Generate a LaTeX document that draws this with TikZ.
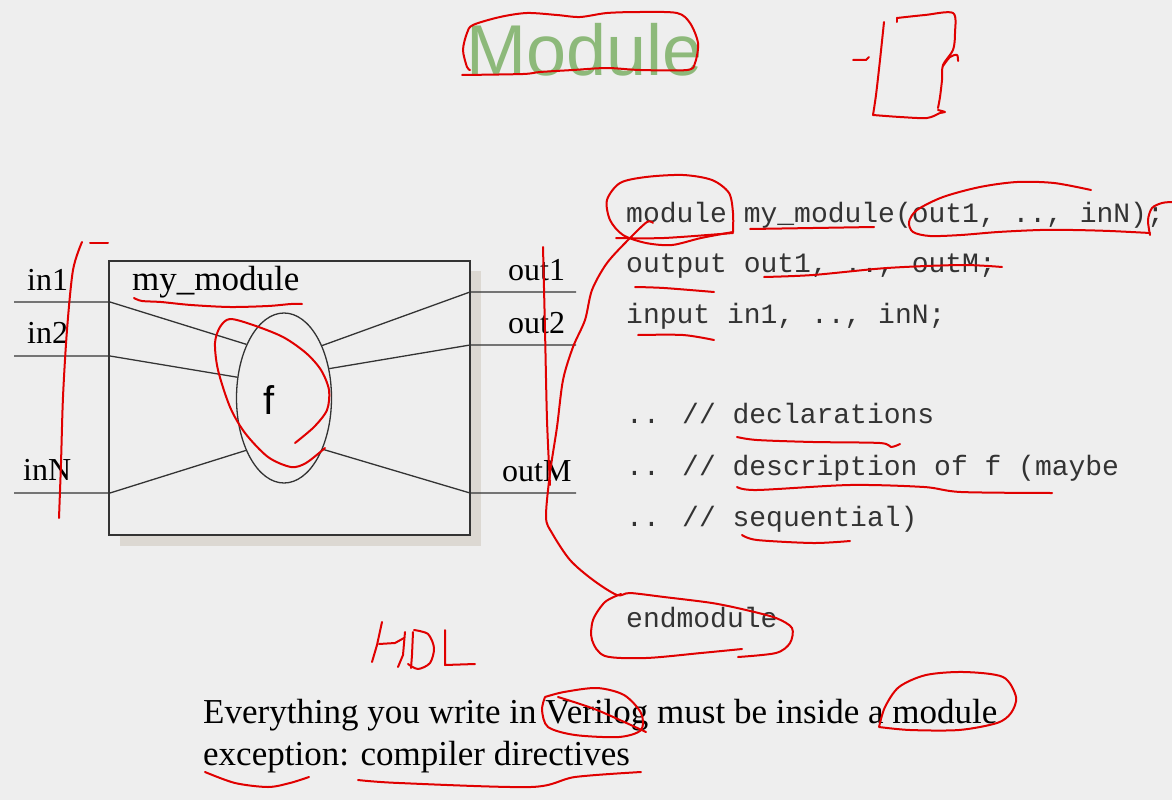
\documentclass[tikz,border=0pt]{standalone}
\usepackage{fontspec}
\setmainfont{Liberation Serif}
\newfontfamily\arialfont{Liberation Sans}
\newfontfamily\courfont{Liberation Mono}
\usetikzlibrary{shapes.geometric}
\definecolor{slidebg}{HTML}{EEEEEE}
\definecolor{titlegreen}{HTML}{8DB97A}
\definecolor{shadowgray}{HTML}{DCD8D2}
\definecolor{wire}{HTML}{333333}
\definecolor{ink}{HTML}{E00000}
\definecolor{codegray}{HTML}{333333}
\begin{document}
\begin{tikzpicture}[x=1pt,y=-1pt,
  wireline/.style={draw=wire, line width=1.3pt},
  pinlabel/.style={anchor=base west, inner sep=0pt, font=\fontsize{32}{32}\selectfont},
  codeline/.style={anchor=base west, inner sep=0pt, text=codegray, font=\courfont\fontsize{28}{28}\selectfont},
  bodytext/.style={anchor=base west, inner sep=0pt, font=\fontsize{35}{35}\selectfont},
  pen/.style={draw=ink, line width=2pt, line cap=round, line join=round},
]
% slide background
\fill[slidebg] (0,0) rectangle (1172,800);
\useasboundingbox (0,0) rectangle (1172,800);

% title
\node[anchor=base west, inner sep=0pt, text=titlegreen,
      font=\arialfont\fontsize{72}{72}\selectfont] (title) at (466,75) {Module};

% module block with its shadow
\fill[shadowgray] (120,271) rectangle (481,546);
\node[draw=wire, line width=1.6pt, fill=slidebg, minimum width=361pt,
      minimum height=274pt, inner sep=0pt] (box) at (289.5,398) {};
\node[pinlabel, font=\fontsize{35}{35}\selectfont] (modname) at (132,290) {my\_module};

% function ellipse
\node[ellipse, draw=wire, line width=1.3pt, minimum width=95pt,
      minimum height=170pt, inner sep=0pt] (f) at (284,398) {};
\node[inner sep=0pt, font=\arialfont\fontsize{40}{40}\selectfont] (flabel) at (269.5,400) {f};

% input wires
\coordinate (in1w) at (14,302);  \coordinate (in1e) at (110,302);
\coordinate (in2w) at (14,356);  \coordinate (in2e) at (110,356);
\coordinate (inNw) at (14,493);  \coordinate (inNe) at (110,493);
\draw[wireline] (in1w) -- (in1e) -- (f.125);
\draw[wireline] (in2w) -- (in2e) -- (f.156);
\draw[wireline] (inNw) -- (inNe) -- (f.234);

% output wires
\coordinate (out1w) at (470,292); \coordinate (out1e) at (576,292);
\coordinate (out2w) at (470,345); \coordinate (out2e) at (576,345);
\coordinate (outMw) at (470,493); \coordinate (outMe) at (576,493);
\draw[wireline] (f.54) -- (out1w) -- (out1e);
\draw[wireline] (f.33) -- (out2w) -- (out2e);
\draw[wireline] (f.307) -- (outMw) -- (outMe);

% pin labels
\node[pinlabel] (lin1) at (27,290) {in1};
\node[pinlabel] (lin2) at (27,343) {in2};
\node[pinlabel] (linN) at (23,480) {inN};
\node[pinlabel] (lout1) at (508,280) {out1};
\node[pinlabel] (lout2) at (508,333) {out2};
\node[pinlabel] (loutM) at (502,481) {outM};

% Verilog skeleton
\node[codeline] (c1) at (626,222) {module my\_module(out1, .., inN);};
\node[codeline] (c2) at (626,272) {output out1, .., outM;};
\node[codeline] (c3) at (626,323) {input in1, .., inN;};
\node[codeline] (c4) at (626,423) {.. // declarations};
\node[codeline] (c5) at (626,475) {.. // description of f (maybe};
\node[codeline] (c6) at (626,526) {.. // sequential)};
\node[codeline] (c7) at (626,627) {endmodule};

% bottom remarks
\node[bodytext] (t1) at (203,723) {Everything you write in Verilog must be inside a module};
\node[bodytext] (t2) at (203,765) {exception: compiler directives};

% ---- red pen marks ----
% loop around the title
\draw[pen] plot[smooth] coordinates {(462,75) (523,74) (540,72) (573,70) (607,68) (640,70) (687,70) (695,63) (698,43) (690,23) (677,13) (640,12) (607,13) (580,17) (557,15) (527,13) (500,17) (473,25) (467,33) (463,50) (467,67) (470,70)};
% bracket sketch, top right
\draw[pen] (853,60) -- (866,60) -- (869,57);
\draw[pen] plot[smooth] coordinates {(884,22) (880,60) (876,95) (873,115)};
\draw[pen] plot[smooth] coordinates {(873,115) (900,117) (927,118) (940,113) (945,112) (938,110)};
\draw[pen] plot[smooth] coordinates {(897,22) (897,18)};
\draw[pen] plot[smooth] coordinates {(897,18) (925,15) (953,13) (955,33) (953,50) (943,65) (942,80) (940,97) (938,108)};
\draw[pen] plot[smooth] coordinates {(943,66) (950,57) (957,55) (958,61)};
% left stroke over the inputs
\draw[pen] (90,243) -- (108,243);
\draw[pen] plot[smooth] coordinates {(82,242) (73,270) (67,330) (63,397) (61,463) (59,518)};
% underline of the block name
\draw[pen] plot[smooth] coordinates {(134,298) (142,301) (161,302) (191,305) (230,307) (268,306) (291,304) (302,304)};
% loop round f
\draw[pen] plot[smooth] coordinates {(295,443) (314,427) (327,410) (329,390) (321,370) (306,353) (283,337) (253,325) (230,319) (220,327) (215,343) (218,370) (230,407) (245,433) (268,457) (291,467) (306,463) (325,448)};
% vertical stroke over the outputs
\draw[pen] plot[smooth] coordinates {(543,247) (545,330) (547,420) (550,485)};
% long stroke from module to endmodule
\draw[pen] plot[smooth] coordinates {(653,223) (647,222) (630,238) (607,263) (592,290) (585,320) (573,347) (563,380) (557,427) (550,473) (546,517) (552,533) (570,560) (593,580) (617,595) (630,593) (664,597) (712,603) (746,610) (776,618) (792,628) (790,643) (776,653) (738,657)};
\draw[pen] plot[smooth] coordinates {(621,594) (605,602) (593,620) (592,640) (605,656) (646,658) (701,653) (742,649)};
% loop and underline for the module keyword
\draw[pen] plot[smooth] coordinates {(733,232) (733,213) (729,193) (712,180) (683,175) (646,177) (620,183) (607,200) (610,220) (623,235) (646,243) (672,245) (701,238) (733,232)};
\draw[pen] plot[smooth] coordinates {(616,238) (664,238) (733,233)};
% my_module underline
\draw[pen] plot[smooth] coordinates {(750,229) (813,228) (874,227)};
% loop round the port list
\draw[pen] plot[smooth] coordinates {(1091,190) (1054,183) (1017,182) (980,187) (943,197) (917,210) (909,222) (913,232) (930,236) (961,235) (998,232) (1040,230) (1073,230) (1110,231) (1150,233)};
\draw[pen] plot[smooth] coordinates {(1150,235) (1148,220) (1152,208) (1162,203) (1172,202)};
% output / input marks
\draw[pen] plot[smooth] coordinates {(635,287) (664,288) (714,292)};
\draw[pen] plot[smooth] coordinates {(764,277) (813,275) (887,268) (961,265) (1002,267)};
\draw[pen] plot[smooth] coordinates {(638,335) (683,335) (714,340)};
% comment underlines
\draw[pen] plot[smooth] coordinates {(737,437) (757,440) (813,442) (880,443) (891,447) (900,444)};
\draw[pen] plot[smooth] coordinates {(737,487) (757,490) (850,485) (924,487) (961,492) (1052,493)};
\draw[pen] plot[smooth] coordinates {(742,535) (757,540) (813,543) (850,541)};
% handwritten HDL
\draw[pen] (382,622) -- (377,645) -- (372,662);
\draw[pen] (379,644) -- (395,643) -- (404,638);
\draw[pen] (405,632) -- (403,655) -- (398,667);
\draw[pen] (413,632) -- (412,655) -- (411,668);
\draw[pen] plot[smooth] coordinates {(414,630) (428,634) (434,648) (430,663) (418,669) (408,664)};
\draw[pen] (445,630) -- (445,665) -- (475,664);
% loops and underlines in the remarks
\draw[pen] plot[smooth] coordinates {(545,697) (564,692) (597,688) (624,695) (641,713) (641,730) (619,737) (575,735) (548,727) (542,710) (545,697)};
\draw[pen] plot[smooth] coordinates {(558,697) (597,710) (646,732)};
\draw[pen] plot[smooth] coordinates {(879,727) (885,707) (899,687) (926,675) (964,672) (1003,677) (1016,697) (1011,713) (997,723) (959,730) (910,730) (879,727)};
\draw[pen] plot[smooth] coordinates {(205,772) (235,783) (268,787) (290,783) (309,777)};
\draw[pen] plot[smooth] coordinates {(358,780) (399,783) (531,787) (575,777) (641,772)};
\end{tikzpicture}
\end{document}
